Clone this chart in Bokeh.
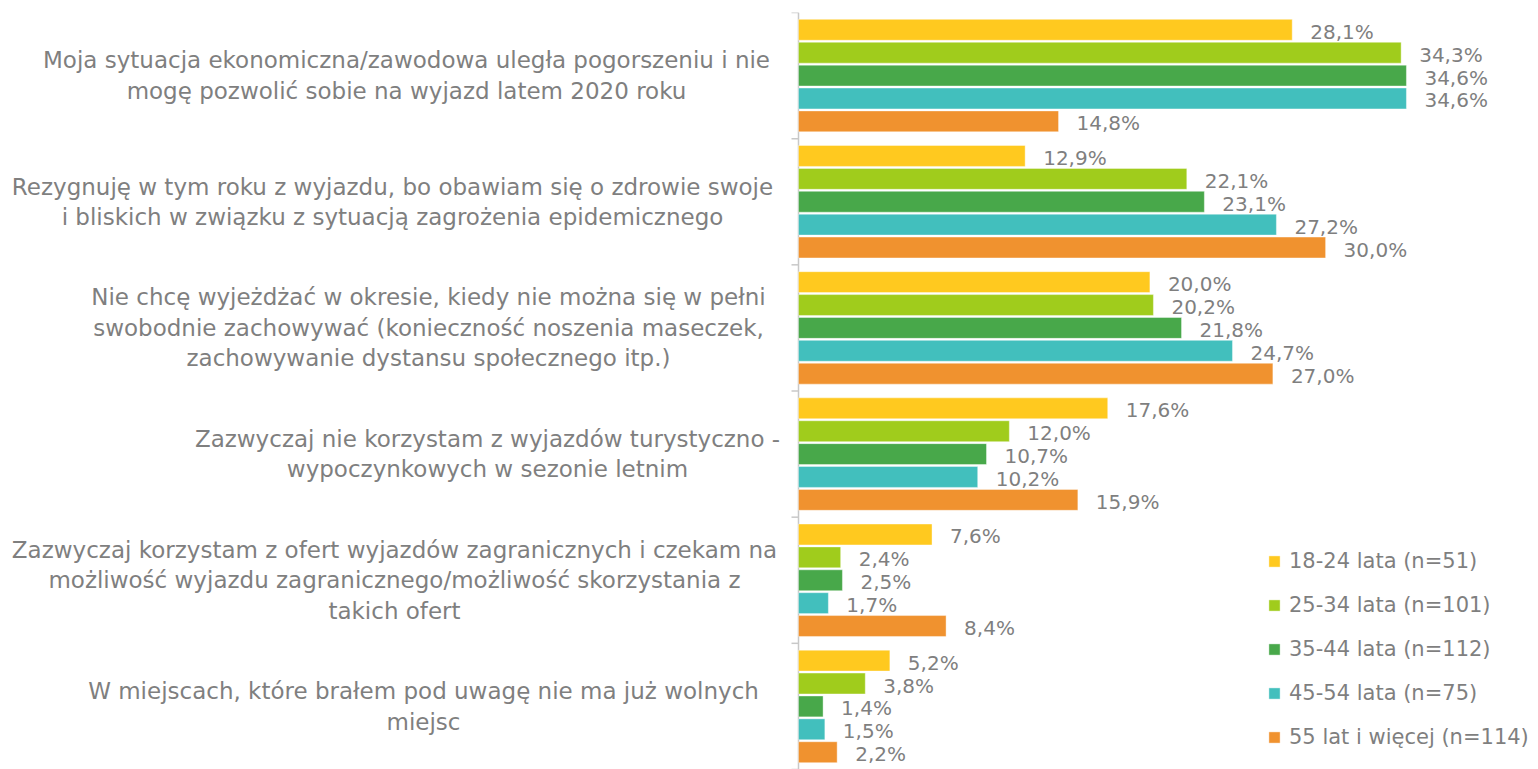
from bokeh.plotting import figure
from bokeh.models import Range1d, ColumnDataSource
from bokeh.core.properties import value
from bokeh.embed import file_html
from bokeh.resources import INLINE

categories = [
    "Moja sytuacja ekonomiczna/zawodowa uległa pogorszeniu i nie\nmogę pozwolić sobie na wyjazd latem 2020 roku",
    "Rezygnuję w tym roku z wyjazdu, bo obawiam się o zdrowie swoje\ni bliskich w związku z sytuacją zagrożenia epidemicznego",
    "Nie chcę wyjeżdżać w okresie, kiedy nie można się w pełni\nswobodnie zachowywać (konieczność noszenia maseczek,\nzachowywanie dystansu społecznego itp.)",
    "Zazwyczaj nie korzystam z wyjazdów turystyczno -\nwypoczynkowych w sezonie letnim",
    "Zazwyczaj korzystam z ofert wyjazdów zagranicznych i czekam na\nmożliwość wyjazdu zagranicznego/możliwość skorzystania z\ntakich ofert",
    "W miejscach, które brałem pod uwagę nie ma już wolnych\nmiejsc",
]
series_names = ["18-24 lata (n=51)", "25-34 lata (n=101)", "35-44 lata (n=112)",
                "45-54 lata (n=75)", "55 lat i więcej (n=114)"]
s_18_24 = [28.1, 12.9, 20.0, 17.6, 7.6, 5.2]
s_25_34 = [34.3, 22.1, 20.2, 12.0, 2.4, 3.8]
s_35_44 = [34.6, 23.1, 21.8, 10.7, 2.5, 1.4]
s_45_54 = [34.6, 27.2, 24.7, 10.2, 1.7, 1.5]
s_55 = [14.8, 30.0, 27.0, 15.9, 8.4, 2.2]
series = [s_18_24, s_25_34, s_35_44, s_45_54, s_55]
colors = ["#FFC91F", "#A0CC1C", "#48A84A", "#42BFBD", "#F0922F"]

FONT = "DejaVu Sans"
GRAY = "#7f7f7f"
AXIS = "#C8C8C8"
n = len(categories)

W, H = 1530, 769
AX_PX = 798          # pixel position of the value axis
PPU = 17.57          # pixels per percentage point
x0 = -AX_PX / PPU
x1 = (W - AX_PX) / PPU
def px(xpix):
    return (xpix - AX_PX) / PPU

# pixel centres of the wrapped category label blocks
label_cx = [406, 392, 428, 487, 394, 423]

p = figure(width=W, height=H, output_backend="svg", toolbar_location=None,
           x_range=Range1d(x0, x1), y_range=Range1d(0, n),
           min_border_left=0, min_border_right=0, min_border_top=12, min_border_bottom=0)
p.outline_line_color = None
p.grid.visible = False
p.axis.visible = False

# value axis line with category separator ticks
p.segment(x0=[0], y0=[0], x1=[0], y1=[n], line_color=AXIS, line_width=1.5)
p.segment(x0=[px(AX_PX - 7)] * (n + 1), y0=list(range(n + 1)),
          x1=[0] * (n + 1), y1=list(range(n + 1)), line_color=AXIS, line_width=1.5)

pitch = 0.1814
bh = 0.1656
centers = [n - i - 0.5 for i in range(n)]
for k, (vals, name, col) in enumerate(zip(series, series_names, colors)):
    ys = [c + (2 - k) * pitch for c in centers]
    src = ColumnDataSource(dict(y=ys, v=vals, t=[f"{v:.1f}".replace(".", ",") + "%" for v in vals]))
    p.hbar(y="y", right="v", left=0, height=bh, source=src, fill_color=col,
           line_color="#ffffff", line_alpha=0.4, line_width=1, legend_label=name)
    p.text(x="v", y="y", text="t", source=src, x_offset=18, y_offset=2,
           text_baseline="middle", text_align="left", text_color=GRAY,
           text_font=value(FONT), text_font_size="20px")

p.text(x=[px(c) for c in label_cx], y=centers, text=categories,
       text_align="center", text_baseline="middle", text_color=GRAY,
       text_font=value(FONT), text_font_size="23px", text_line_height=1.17)

lg = p.legend[0]
lg.location = (1267, 20)
lg.border_line_color = None
lg.background_fill_alpha = 0
lg.padding = 0
lg.margin = 0
lg.glyph_width = 14
lg.glyph_height = 14
lg.label_standoff = 8
lg.label_text_font = FONT
lg.label_text_font_size = "21px"
lg.label_text_color = GRAY
lg.label_height = 20
lg.spacing = 20
lg.label_text_baseline = "middle"

open("out.html", "w").write(file_html(p, INLINE))
